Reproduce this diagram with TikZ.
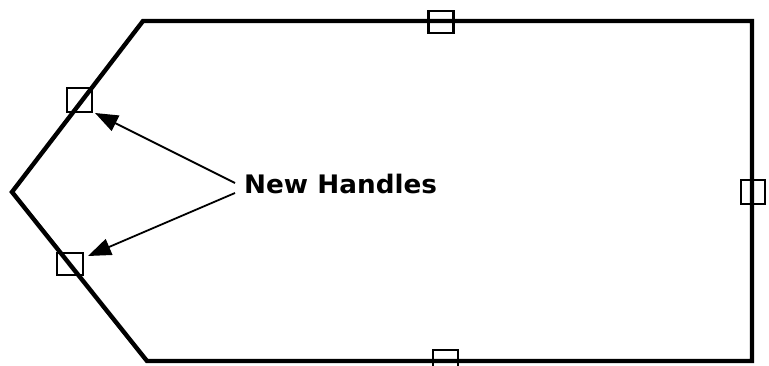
\documentclass[tikz,border=0pt]{standalone}
\usepackage{fontspec}
\setmainfont{DejaVu Sans}
\usetikzlibrary{arrows.meta}
\tikzset{
  outline/.style={line width=4.4pt, line join=miter},
  handle/.style={draw, line width=2.2pt, minimum width=25pt, minimum height=22pt, inner sep=0pt},
  pointer/.style={line width=1.8pt, -{Triangle[length=23pt,width=17pt]}},
  label/.style={font=\fontsize{25.5}{28}\selectfont\bfseries, inner sep=0pt}
}
\begin{document}
\begin{tikzpicture}[x=1pt,y=-1pt]
\useasboundingbox (0,0) rectangle (769,366);
\begin{scope}
\clip (0,0) rectangle (769,366);
\coordinate (p1) at (143,21);
\coordinate (p2) at (752,21);
\coordinate (p3) at (752,361);
\coordinate (p4) at (147,361);
\coordinate (p5) at (12,192);
\draw[outline] (p1) -- (p2) -- (p3) -- (p4) -- (p5) -- cycle;
\node[handle] (htop) at (441,22) {};
\node[handle, minimum width=24pt, minimum height=24pt] (hright) at (753,192) {};
\node[handle] (hbottom) at (445.5,361) {};
\node[handle, minimum width=25pt, minimum height=24pt] (hul) at (79.5,100) {};
\node[handle, minimum width=26pt, minimum height=22pt] (hll) at (70,264) {};
\end{scope}
\node[label, anchor=base west] (txt) at (244,193.5) {\scalebox{1.03}[1]{New Handles}};
\coordinate (t1) at (235,183);
\coordinate (t2) at (235,193);
\coordinate (a1) at (95,113);
\coordinate (a2) at (88,256);
\draw[pointer] (t1) -- (a1);
\draw[pointer] (t2) -- (a2);
\end{tikzpicture}
\end{document}
